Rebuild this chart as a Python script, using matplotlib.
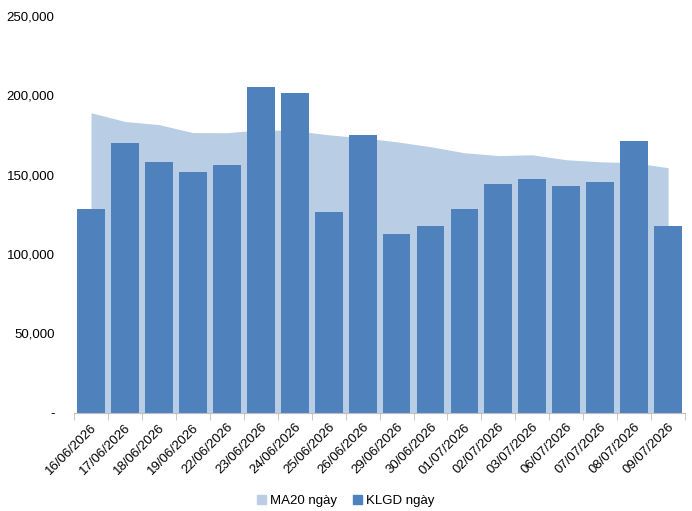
import matplotlib.pyplot as plt
import numpy as np
from matplotlib.ticker import FuncFormatter
from matplotlib.patches import Patch

plt.rcParams['font.family'] = ['Liberation Sans', 'DejaVu Sans']

dates = ['16/06/2026', '17/06/2026', '18/06/2026', '19/06/2026', '22/06/2026',
         '23/06/2026', '24/06/2026', '25/06/2026', '26/06/2026', '29/06/2026',
         '30/06/2026', '01/07/2026', '02/07/2026', '03/07/2026', '06/07/2026',
         '07/07/2026', '08/07/2026', '09/07/2026']
klgd = [128500, 170100, 158100, 151800, 156200, 205400, 201600, 126600, 175100,
        112800, 117800, 128500, 144300, 147400, 143000, 145500, 171400, 117800]
ma20 = [189000, 183500, 181500, 176500, 176400, 178300, 177700, 175100, 173200,
        170700, 167600, 163800, 162000, 162500, 159400, 158100, 157500, 154400]

x = np.arange(len(dates))

fig = plt.figure(figsize=(6.92, 5.11), dpi=100)
ax = fig.add_axes([0.107, 0.192, 0.883, 0.777])

# MA20 as a filled area behind the daily volume bars
ax.fill_between(x, 0, ma20, color='#B9CDE5', linewidth=0, zorder=1)
ax.bar(x, klgd, width=0.82, color='#4F81BD', zorder=2)

ax.set_xlim(-0.5, len(dates) - 0.5)
ax.set_ylim(0, 250000)
ax.set_yticks(np.arange(0, 250001, 50000))
ax.yaxis.set_major_formatter(FuncFormatter(lambda v, p: '-' if v == 0 else f'{int(v):,}'))
ax.tick_params(axis='y', length=0, labelsize=9.5, pad=14)

ax.set_xticks(x)
ax.set_xticklabels(dates, rotation=45, ha='right', rotation_mode='anchor', fontsize=9.5)
ax.set_xticks(np.arange(-0.5, len(dates)), minor=True)
ax.tick_params(axis='x', which='major', length=0, pad=6)
ax.tick_params(axis='x', which='minor', length=5, color='#BFBFBF')

for s in ['top', 'right', 'left']:
    ax.spines[s].set_visible(False)
ax.spines['bottom'].set_color('#BFBFBF')

handles = [Patch(color='#B9CDE5', label='MA20 ngày'), Patch(color='#4F81BD', label='KLGD ngày')]
fig.legend(handles=handles, loc='center', bbox_to_anchor=(0.5, 0.02), ncol=2, frameon=False,
           fontsize=9.5, handlelength=0.7, handleheight=0.7, handletextpad=0.3, columnspacing=1.2)

fig.savefig('out.png', dpi=100)
